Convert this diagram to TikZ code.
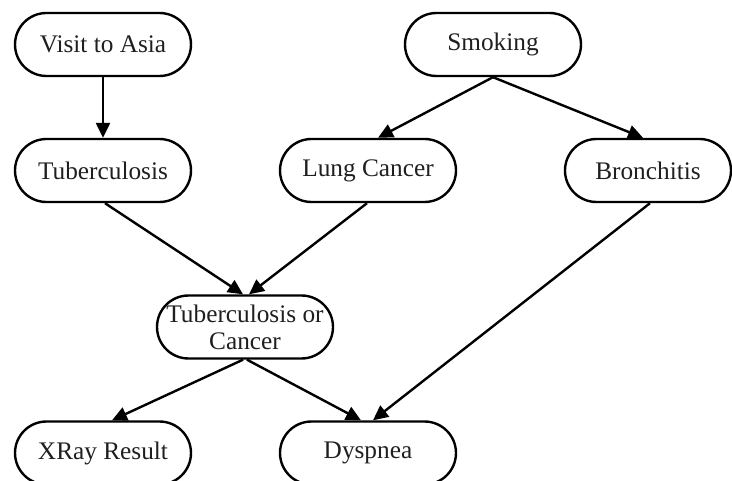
\documentclass[tikz,border=0pt]{standalone}
\usepackage{fontspec}
\setmainfont{Liberation Serif}
\usetikzlibrary{shapes.misc,arrows.meta}
\begin{document}
\begin{tikzpicture}[x=1pt,y=-1pt,
  var/.style={draw=black, line width=2.4pt, rounded rectangle, rounded rectangle arc length=180,
    minimum width=180pt, minimum height=63pt, inner sep=2pt, align=center,
    text=black!88, font=\fontsize{25.3}{27}\selectfont},
  link/.style={line width=2.4pt, -{Triangle[length=15pt,width=14pt]}}]
  \useasboundingbox (0,0) rectangle (732,481);
  % nodes of the network
  \node[var] (asia) at (103,44.5) {Visit to Asia};
  \node[var] (smoke) at (493,44.5) {Smoking};
  \node[var] (tub) at (103,170.5) {Tuberculosis};
  \node[var] (lung) at (368,170.5) {Lung Cancer};
  \node[var, minimum width=170pt] (bron) at (648,170.5) {Bronchitis};
  \node[var] (either) at (245,327) {Tuberculosis or\\Cancer};
  \node[var] (xray) at (103,453) {XRay Result};
  \node[var] (dysp) at (368,453) {Dyspnea};
  % dependencies
  \draw[link] (asia.south) -- (tub.north);
  \draw[link] (smoke.south) -- ([xshift=10pt]lung.north);
  \draw[link] (smoke.south) -- ([xshift=-5pt]bron.north);
  \draw[link] ([xshift=2pt]tub.south) -- ([xshift=-2pt]either.north);
  \draw[link] ([xshift=-1pt]lung.south) -- ([xshift=4pt]either.north);
  \draw[link] ([xshift=-2pt]either.south) -- ([xshift=9pt]xray.north);
  \draw[link] ([xshift=2pt]either.south) -- ([xshift=-7pt]dysp.north);
  \draw[link] ([xshift=2pt]bron.south) -- ([xshift=5pt]dysp.north);
\end{tikzpicture}
\end{document}
